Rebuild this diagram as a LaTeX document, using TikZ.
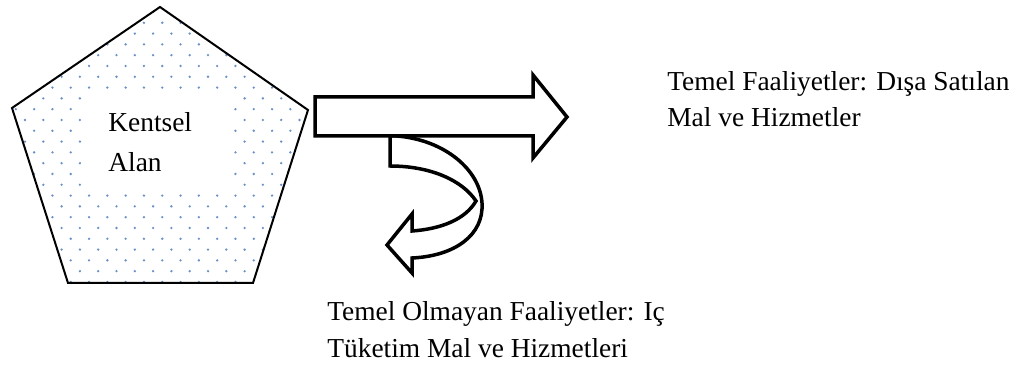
\documentclass[tikz,border=0pt]{standalone}
\usepackage{fontspec}
\setmainfont{Liberation Serif}
\definecolor{dotblue}{RGB}{105,145,200}

\tikzset{
	blockarrow/.style = {draw = black, fill = white, line width = 0.07cm, line join = miter},
	label/.style = {anchor = base west, align = left, inner sep = 0pt},
}

\begin{document}
\begin{tikzpicture}[x = 0.02cm, y = -0.02cm]

	\useasboundingbox (0, 0) rectangle (1027, 374);

	% Pentagon corners
	
	\coordinate (top) at (160, 7);
	\coordinate (right) at (308, 110);
	\coordinate (botright) at (253, 283);
	\coordinate (botleft) at (68, 283);
	\coordinate (left) at (12, 108);

	% Dotted fill
	
	\begin{scope}
	
		\clip (top) -- (right) -- (botright) -- (botleft) -- (left) -- cycle;
		\foreach \j in {-11, ..., 15}
			\foreach \k in {-1, ..., 16}
			{
				\fill [dotblue] ({25 + 18.3 * \k + 9.15 * abs(mod(\j, 2))}, {120 + 10.8 * \j}) circle (0.026cm);
			}
		\fill [white] (85, 97) rectangle (232, 190);
		
	\end{scope}
	
	\draw [line width = 0.04cm, line join = miter] (top) -- (right) -- (botright) -- (botleft) -- (left) -- cycle;
	
	\node [label, font = {\fontsize{15.6pt}{22.8pt}\selectfont}] (kentsel) at (108, 172) {Kentsel\\Alan};

	% Arrows
	
	\draw [blockarrow] (390, 136) -- (390, 166) .. controls (430, 166) and (462, 180) .. (476, 201)
		.. controls (465, 220) and (440, 229) .. (412, 231) -- (412, 214) -- (387, 245) -- (412, 273) -- (412, 258)
		.. controls (455, 256) and (484, 235) .. (482, 203) .. controls (480, 170) and (445, 140) .. (397, 136) -- cycle;
	
	\draw [blockarrow] (315, 97) -- (533, 97) -- (533, 75) -- (567, 117) -- (533, 158) -- (533, 136) -- (315, 136) -- cycle;

	% Labels
	
	\node [label, font = {\fontsize{15.6pt}{20.5pt}\selectfont}] (temel) at (667, 127) {Temel Faaliyetler: Dışa Satılan\\Mal ve Hizmetler};
	\node [label, font = {\fontsize{15.6pt}{21.6pt}\selectfont}] (icpazar) at (327, 358) {Temel Olmayan Faaliyetler: Iç\\Tüketim Mal ve Hizmetleri};

\end{tikzpicture}
\end{document}
